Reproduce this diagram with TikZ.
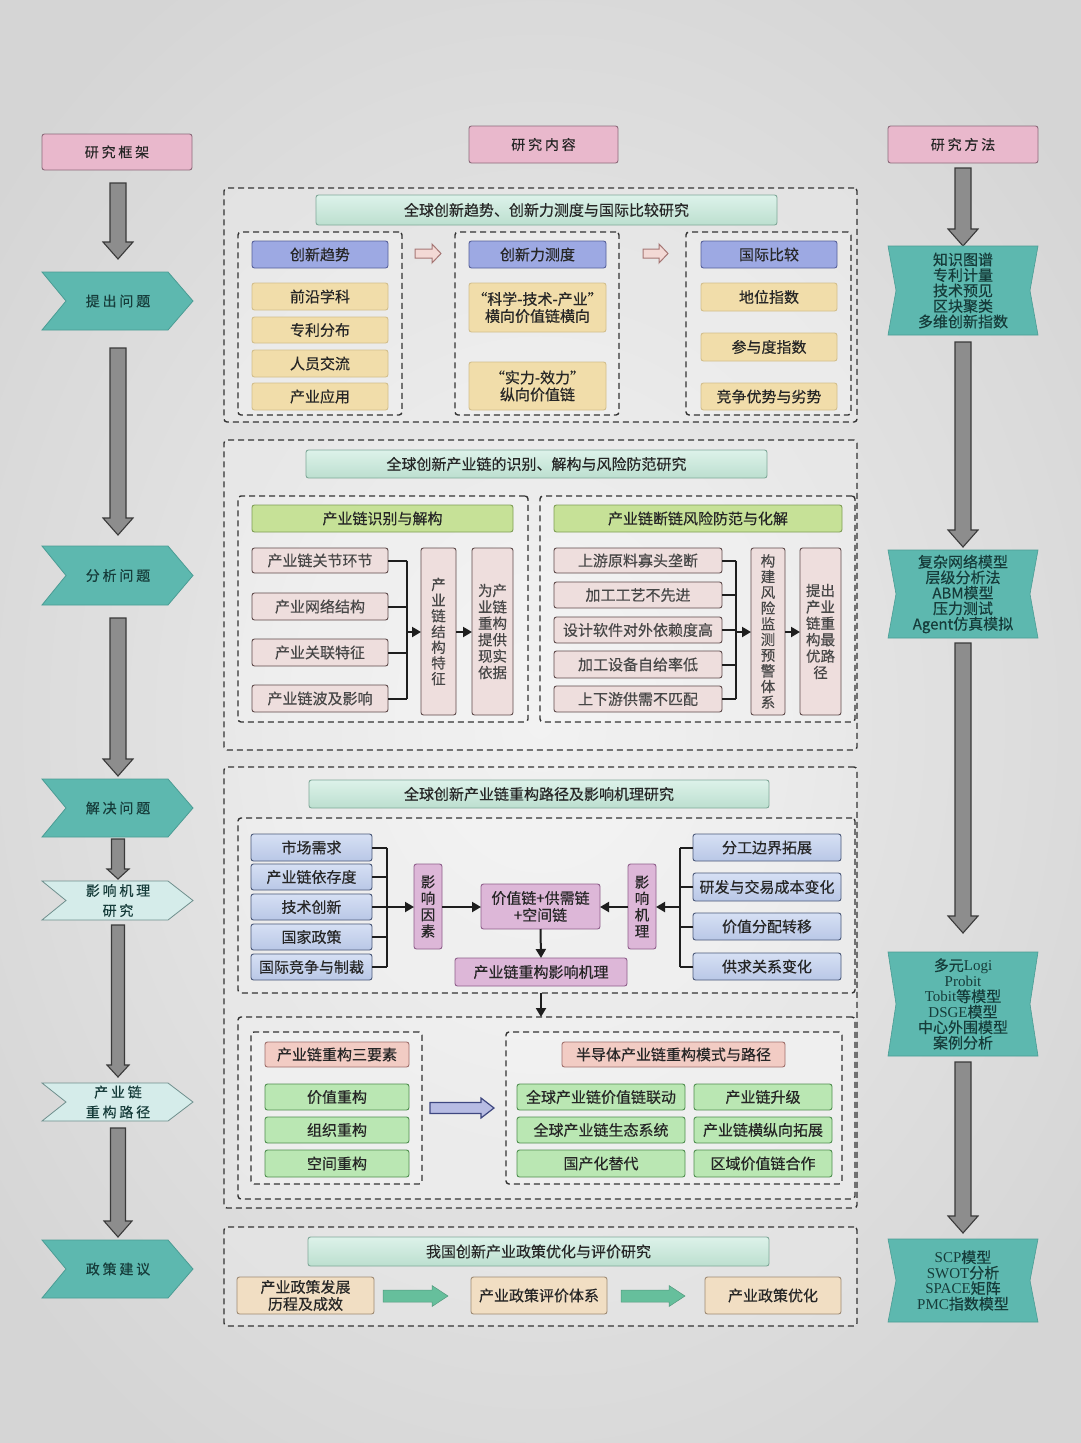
\documentclass[tikz,border=0pt]{standalone}
\usepackage{fontspec}
\setmainfont{Noto Sans CJK SC}[FakeBold=0.35]
\newfontfamily\spaced{Noto Sans CJK SC}[LetterSpace=20,FakeBold=0.35]
\newfontfamily\serifL{Liberation Serif}
\usetikzlibrary{arrows.meta}
\definecolor{bgIn}{HTML}{EFEFEF}
\definecolor{bgOut}{HTML}{D5D5D5}
\definecolor{txt}{HTML}{262626}
\definecolor{pinkF}{HTML}{E9B8CC}
\definecolor{pinkD}{HTML}{8C6A7A}
\definecolor{tealF}{HTML}{5DB8AF}
\definecolor{tealD}{HTML}{4A9C94}
\definecolor{tealT}{HTML}{163C3A}
\definecolor{ltealF}{HTML}{D5ECEA}
\definecolor{ltealD}{HTML}{6F8F8D}
\definecolor{grayF}{HTML}{8D8D8D}
\definecolor{grayD}{HTML}{3A3A3A}
\definecolor{mintT}{HTML}{DDF2EA}
\definecolor{mintB}{HTML}{BCDFCF}
\definecolor{mintD}{HTML}{7FA898}
\definecolor{blueF}{HTML}{9DA9E3}
\definecolor{blueD}{HTML}{56609A}
\definecolor{sandF}{HTML}{F1DDAA}
\definecolor{sandD}{HTML}{D2BE8C}
\definecolor{grnF}{HTML}{C6E197}
\definecolor{grnD}{HTML}{7F9D55}
\definecolor{roseF}{HTML}{EEDEDD}
\definecolor{roseD}{HTML}{5E4A4A}
\definecolor{lbT}{HTML}{D6E0F4}
\definecolor{lbB}{HTML}{B9C7E6}
\definecolor{lbD}{HTML}{4A5878}
\definecolor{mauF}{HTML}{DDB7D8}
\definecolor{mauD}{HTML}{8E5E8A}
\definecolor{salF}{HTML}{F2CCC4}
\definecolor{salD}{HTML}{9E6E6A}
\definecolor{mgF}{HTML}{BAE7B3}
\definecolor{mgD}{HTML}{4F8E4F}
\definecolor{begF}{HTML}{F1DEC3}
\definecolor{begD}{HTML}{9E8A73}
\definecolor{garF}{HTML}{66BF9C}
\definecolor{parF}{HTML}{F3D9D5}
\definecolor{parD}{HTML}{A67775}
\definecolor{barF}{HTML}{B7BCE3}
\definecolor{barD}{HTML}{3E4780}
\definecolor{dashC}{HTML}{333333}
\definecolor{lineC}{HTML}{1E1E1E}

\tikzset{
 base/.style={draw, rounded corners=2.5pt, inner sep=0pt, outer sep=0pt, line width=0.9pt,
   align=center, text=txt, font=\fontsize{15}{17}\selectfont},
 hdrbox/.style={base, fill=pinkF, draw=pinkD, font=\spaced\fontsize{14}{16}\selectfont},
 sectbar/.style={base, top color=mintT, bottom color=mintB, draw=mintD},
 bluehdr/.style={base, fill=blueF, draw=blueD},
 sandbox/.style={base, fill=sandF, draw=sandD},
 grnhdr/.style={base, fill=grnF, draw=grnD},
 rosebox/.style={base, fill=roseF, draw=roseD, text=txt!85},
 lbbox/.style={base, top color=lbT, bottom color=lbB, draw=lbD},
 maubox/.style={base, fill=mauF, draw=mauD},
 salbox/.style={base, fill=salF, draw=salD},
 mgbox/.style={base, fill=mgF, draw=mgD},
 begbox/.style={base, fill=begF, draw=begD},
 vtext/.style={font=\fontsize{14.5}{15.7}\selectfont},
 vtext2/.style={font=\fontsize{14.5}{16.4}\selectfont},
 dbox/.style={draw=dashC, dash pattern=on 6pt off 4pt, line width=1.4pt, rounded corners=3pt,
   inner sep=0pt, outer sep=0pt, fill=white, fill opacity=0.2, text opacity=1},
 conn/.style={draw=lineC, line width=2pt},
 arr/.style={conn, -{Triangle[length=9pt,width=10pt]}},
 chevdark/.style={fill=tealF, draw=tealD, line width=0.8pt},
 chevlight/.style={fill=ltealF, draw=ltealD, line width=0.8pt},
 chevtext/.style={inner sep=0pt, align=center, text=tealT, font=\spaced\fontsize{14}{20}\selectfont},
 methf/.style={fill=tealF, draw=tealD, line width=0.6pt},
 methtext/.style={inner sep=0pt, align=center, text=tealT, font=\fontsize{15}{15.5}\selectfont},
 garr/.style={fill=grayF, draw=grayD, line width=1.1pt, line join=miter},
 pinkarr/.style={fill=parF, draw=parD, line width=1pt},
 bluearr/.style={fill=barF, draw=barD, line width=1.2pt},
 greenarr/.style={fill=garF, draw=garF!80!black, line width=0.5pt},
}

% #1 extra opts, #2 style, #3 name, #4 x1, #5 y1, #6 x2, #7 y2, #8 text
\newcommand\mybox[8][]{%
 \pgfmathsetmacro\mbw{#6-#4}\pgfmathsetmacro\mbh{#7-#5}%
 \node[#2,minimum width=\mbw pt,minimum height=\mbh pt,#1] (#3) at ({(#4+#6)/2},{(#5+#7)/2}) {#8};}
% chevron: name, ytop, ybot, style, text
\newcommand\mychev[5]{%
 \pgfmathsetmacro\chmid{(#2+#3)/2}%
 \draw[#4] (42,#2) -- (168,#2) -- (193,\chmid) -- (168,#3) -- (42,#3) -- (66,\chmid) -- cycle;
 \node[chevtext] (#1) at (118,\chmid) {#5};}
% method shape: name, ytop, ybot, text
\newcommand\mymeth[4]{%
 \pgfmathsetmacro\chmid{(#2+#3)/2}%
 \draw[methf] (888,#2) -- (1038,#2) -- (1030,\chmid) -- (1038,#3) -- (888,#3) -- (896,\chmid) -- cycle;
 \node[methtext] (#1) at (963,\chmid) {#4};}
% down block arrow: x, ytop, ytip, shaft half, head half, head length
\newcommand\mydown[6]{%
 \draw[garr] (#1-#4,#2) -- (#1+#4,#2) -- (#1+#4,#3-#6) -- (#1+#5,#3-#6) -- (#1,#3)
   -- (#1-#5,#3-#6) -- (#1-#4,#3-#6) -- cycle;}
% right block arrow: style, x1, xtip, yc, shaft half, head half, head length
\newcommand\myright[7]{%
 \draw[#1] (#2,#4-#5) -- (#3-#7,#4-#5) -- (#3-#7,#4-#6) -- (#3,#4) -- (#3-#7,#4+#6)
   -- (#3-#7,#4+#5) -- (#2,#4+#5) -- cycle;}

\begin{document}
\begin{tikzpicture}[x=1pt,y=-1pt]
\useasboundingbox (0,0) rectangle (1080,1443);
\shade[inner color=bgIn, outer color=bgOut] (-150,-150) rectangle (1230,1593);

% ---------- column headers ----------
\mybox{hdrbox}{hL}{42}{134}{192}{170}{研究框架}
\mybox{hdrbox}{hM}{469}{126}{618}{163}{研究内容}
\mybox{hdrbox}{hR}{888}{126}{1038}{163}{研究方法}

% ---------- left column ----------
\mydown{118}{183}{259}{8}{15}{17}
\mychev{c1}{272}{330}{chevdark}{提出问题}
\mydown{118}{348}{535}{8}{15}{17}
\mychev{c2}{546}{605}{chevdark}{分析问题}
\mydown{118}{618}{776}{8}{15}{17}
\mychev{c3}{779}{837}{chevdark}{解决问题}
\mydown{118}{839}{879}{6.5}{11}{10}
\mychev{c4}{881}{920}{chevlight}{影响机理\\研究}
\mydown{118}{925}{1077}{6.5}{11}{12}
\mychev{c5}{1083}{1121}{chevlight}{产业链\\重构路径}
\mydown{118}{1128}{1237}{7.5}{14}{16}
\mychev{c6}{1240}{1298}{chevdark}{政策建议}

% ---------- right column ----------
\mydown{963}{168}{246}{8}{15}{17}
\mymeth{m1}{246}{335}{知识图谱\\专利计量\\技术预见\\区块聚类\\多维创新指数}
\mydown{963}{342}{547}{8}{15}{17}
\mymeth{m2}{550}{638}{复杂网络模型\\层级分析法\\ABM模型\\压力测试\\Agent仿真模拟}
\mydown{963}{643}{933}{8}{15}{17}
\mymeth{m3}{952}{1056}{多元{\serifL Logi}\\{\serifL Probit}\\{\serifL Tobit}等模型\\{\serifL DSGE}模型\\中心外围模型\\案例分析}
\mydown{963}{1062}{1233}{8}{15}{17}
\mymeth{m4}{1239}{1322}{{\serifL SCP}模型\\{\serifL SWOT}分析\\{\serifL SPACE}矩阵\\{\serifL PMC}指数模型}

% ---------- section 1 ----------
\mybox{dbox}{s1}{224}{188}{857}{422}{}
\mybox{sectbar}{t1}{316}{195}{777}{225}{全球创新趋势、创新力测度与国际比较研究}
\mybox{dbox}{d1a}{238}{232}{402}{415}{}
\mybox{dbox}{d1b}{455}{232}{619}{415}{}
\mybox{dbox}{d1c}{686}{232}{851}{415}{}
\mybox{bluehdr}{h1a}{252}{241}{388}{268}{创新趋势}
\mybox{sandbox}{a1}{252}{283}{388}{310}{前沿学科}
\mybox{sandbox}{a2}{252}{317}{388}{343}{专利分布}
\mybox{sandbox}{a3}{252}{350}{388}{377}{人员交流}
\mybox{sandbox}{a4}{252}{383}{388}{410}{产业应用}
\mybox{bluehdr}{h1b}{469}{241}{606}{268}{创新力测度}
\mybox{sandbox}{b1}{469}{283}{606}{332}{“科学-技术-产业”\\横向价值链横向}
\mybox{sandbox}{b2}{469}{362}{606}{410}{“实力-效力”\\纵向价值链}
\mybox{bluehdr}{h1c}{701}{241}{837}{268}{国际比较}
\mybox{sandbox}{e1}{701}{283}{837}{311}{地位指数}
\mybox{sandbox}{e2}{701}{333}{837}{361}{参与度指数}
\mybox{sandbox}{e3}{701}{383}{837}{410}{竞争优势与劣势}
\myright{pinkarr}{415}{441}{253.5}{4.5}{9.5}{9}
\myright{pinkarr}{643}{668}{253.5}{4.5}{9.5}{9}

% ---------- section 2 ----------
\mybox{dbox}{s2}{224}{440}{857}{750}{}
\mybox{sectbar}{t2}{306}{450}{767}{478}{全球创新产业链的识别、解构与风险防范研究}
\mybox{dbox}{d2a}{238}{496}{528}{722}{}
\mybox{dbox}{d2b}{540}{496}{855}{722}{}
\mybox{grnhdr}{h2a}{252}{505}{513}{532}{产业链识别与解构}
\mybox{rosebox}{p1}{252}{548}{388}{573}{产业链关节环节}
\mybox{rosebox}{p2}{252}{593}{388}{620}{产业网络结构}
\mybox{rosebox}{p3}{252}{639}{388}{666}{产业关联特征}
\mybox{rosebox}{p4}{252}{685}{388}{712}{产业链波及影响}
\mybox[vtext]{rosebox}{v2a}{421}{548}{456}{715}{产\\业\\链\\结\\构\\特\\征}
\mybox[vtext2]{rosebox}{v2b}{472}{548}{513}{715}{为产\\业链\\重构\\提供\\现实\\依据}
\mybox{grnhdr}{h2b}{554}{505}{842}{532}{产业链断链风险防范与化解}
\mybox{rosebox}{q1}{554}{548}{722}{573}{上游原料寡头垄断}
\mybox{rosebox}{q2}{554}{582}{722}{608}{加工工艺不先进}
\mybox{rosebox}{q3}{554}{617}{722}{643}{设计软件对外依赖度高}
\mybox{rosebox}{q4}{554}{651}{722}{678}{加工设备自给率低}
\mybox{rosebox}{q5}{554}{686}{722}{712}{上下游供需不匹配}
\mybox[vtext]{rosebox}{v2c}{751}{548}{785}{715}{构\\建\\风\\险\\监\\测\\预\\警\\体\\系}
\mybox[vtext2]{rosebox}{v2d}{800}{548}{841}{715}{提出\\产业\\链重\\构最\\优路\\径}
\coordinate (brA) at (407,632);
\coordinate (brB) at (736,632);
\foreach \n in {p1,p2,p3,p4} \draw[conn] (\n.east) -- (\n.east -| brA);
\draw[conn] (p1.east -| brA) -- (p4.east -| brA);
\draw[arr] (brA) -- (brA -| v2a.west);
\draw[arr] (brA -| v2a.east) -- (brA -| v2b.west);
\foreach \n in {q1,q2,q3,q4,q5} \draw[conn] (\n.east) -- (\n.east -| brB);
\draw[conn] (q1.east -| brB) -- (q5.east -| brB);
\draw[arr] (brB) -- (brB -| v2c.west);
\draw[arr] (brB -| v2c.east) -- (brB -| v2d.west);

% ---------- section 3 ----------
\mybox{dbox}{s3}{224}{767}{857}{1208}{}
\mybox{sectbar}{t3}{309}{780}{769}{808}{全球创新产业链重构路径及影响机理研究}
\mybox{dbox}{d3a}{238}{818}{855}{993}{}
\mybox{lbbox}{n1}{251}{834}{372}{861}{市场需求}
\mybox{lbbox}{n2}{251}{864}{372}{890}{产业链依存度}
\mybox{lbbox}{n3}{251}{894}{372}{920}{技术创新}
\mybox{lbbox}{n4}{251}{924}{372}{950}{国家政策}
\mybox{lbbox}{n5}{251}{954}{372}{980}{国际竞争与制裁}
\mybox[vtext2]{maubox}{f1}{414}{864}{442}{949}{影\\响\\因\\素}
\mybox{maubox}{vc}{481}{884}{600}{929}{价值链+供需链\\+空间链}
\mybox{maubox}{mech}{455}{958}{627}{986}{产业链重构影响机理}
\mybox[vtext2]{maubox}{f2}{628}{864}{656}{949}{影\\响\\机\\理}
\mybox{lbbox}{r1}{693}{834}{841}{861}{分工边界拓展}
\mybox{lbbox}{r2}{693}{873}{841}{901}{研发与交易成本变化}
\mybox{lbbox}{r3}{693}{913}{841}{940}{价值分配转移}
\mybox{lbbox}{r4}{693}{953}{841}{980}{供求关系变化}
\coordinate (brC) at (387,907);
\coordinate (brD) at (680,907);
\foreach \n in {n1,n2,n3,n4,n5} \draw[conn] (\n.east) -- (\n.east -| brC);
\draw[conn] (n1.east -| brC) -- (n5.east -| brC);
\draw[arr] (brC) -- (brC -| f1.west);
\draw[arr] (brC -| f1.east) -- (brC -| vc.west);
\foreach \n in {r1,r2,r3,r4} \draw[conn] (\n.west) -- (\n.west -| brD);
\draw[conn] (r1.west -| brD) -- (r4.west -| brD);
\draw[arr] (brD) -- (brD -| f2.east);
\draw[arr] (brD -| f2.west) -- (brD -| vc.east);
\draw[arr] (vc.south) -- (mech.north);

\mybox{dbox}{d3b}{238}{1017}{855}{1199}{}
\draw[arr] (d3a.south -| mech.south) -- (d3b.north -| mech.south);
\mybox{dbox}{d3c}{251}{1032}{422}{1184}{}
\mybox{salbox}{h3c}{265}{1042}{409}{1067}{产业链重构三要素}
\mybox{mgbox}{g1}{265}{1084}{409}{1110}{价值重构}
\mybox{mgbox}{g2}{265}{1117}{409}{1143}{组织重构}
\mybox{mgbox}{g3}{265}{1150}{409}{1177}{空间重构}
\myright{bluearr}{430}{494}{1108}{5.5}{10}{13}
\mybox{dbox}{d3d}{506}{1032}{842}{1184}{}
\mybox{salbox}{h3d}{562}{1042}{785}{1067}{半导体产业链重构模式与路径}
\mybox{mgbox}{k11}{517}{1084}{685}{1110}{全球产业链价值链联动}
\mybox{mgbox}{k12}{694}{1084}{832}{1110}{产业链升级}
\mybox{mgbox}{k21}{517}{1117}{685}{1143}{全球产业链生态系统}
\mybox{mgbox}{k22}{694}{1117}{832}{1143}{产业链横纵向拓展}
\mybox{mgbox}{k31}{517}{1150}{685}{1177}{国产化替代}
\mybox{mgbox}{k32}{694}{1150}{832}{1177}{区域价值链合作}

% ---------- section 4 ----------
\mybox{dbox}{s4}{224}{1227}{857}{1326}{}
\mybox{sectbar}{t4}{308}{1237}{769}{1266}{我国创新产业政策优化与评价研究}
\mybox{begbox}{u1}{237}{1277}{374}{1314}{产业政策发展\\历程及成效}
\mybox{begbox}{u2}{471}{1277}{607}{1314}{产业政策评价体系}
\mybox{begbox}{u3}{705}{1277}{841}{1314}{产业政策优化}
\myright{greenarr}{383}{448}{1296}{6}{10.5}{16}
\myright{greenarr}{621}{685}{1296}{6}{10.5}{16}
\end{tikzpicture}
\end{document}
